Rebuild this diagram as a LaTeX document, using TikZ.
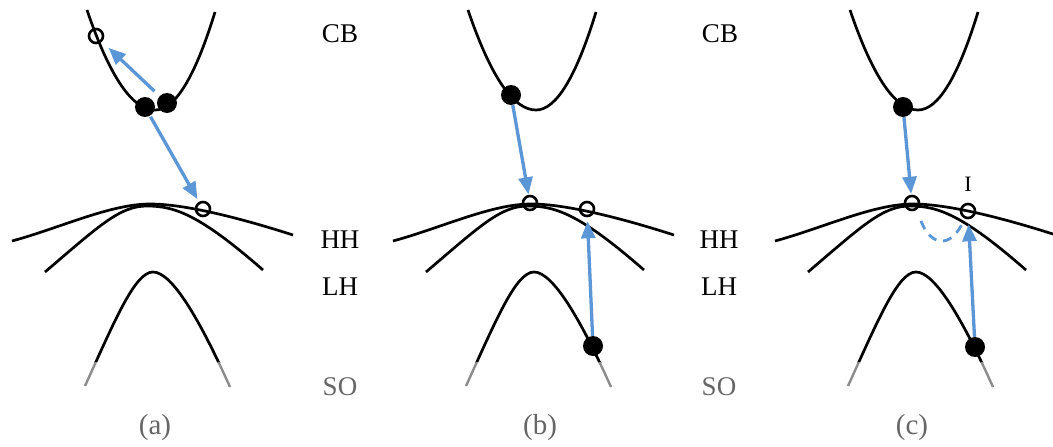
\documentclass[tikz,border=0pt]{standalone}
\usepackage{fontspec}
\setmainfont{Liberation Serif}
\usetikzlibrary{arrows.meta}
\definecolor{arrowblue}{RGB}{91,150,214}
\newcommand\drawbands{%
  \draw[band] (87,10) .. controls (109.7,76.7) and (132.3,110) .. (155,110)
              .. controls (175,110) and (195,77.3) .. (215,12);
  \draw[band] (12,241) .. controls (60,228) and (110,204) .. (150,204)
              .. controls (185,204) and (240,218) .. (293,235);
  \draw[band] (45,272) .. controls (100,225) and (120,206) .. (147,206)
              .. controls (175,206) and (200,215) .. (263,270);
  \begin{scope}
    \clip (0,0) rectangle (300,362);
    \draw[band] (85,386) .. controls (115,320) and (135,272) .. (153,272)
                .. controls (172,272) and (200,320) .. (230,387);
  \end{scope}
  \begin{scope}
    \clip (0,362) rectangle (300,447);
    \draw[sotip] (85,386) .. controls (115,320) and (135,272) .. (153,272)
                .. controls (172,272) and (200,320) .. (230,387);
  \end{scope}}
\begin{document}
\begin{tikzpicture}[x=1pt,y=-1pt,
  band/.style={line width=2.7pt},
  sotip/.style={line width=2.4pt,black!45},
  dotnode/.style={circle,fill=black,inner sep=0pt,minimum size=20pt},
  hole/.style={circle,draw=black,line width=2.6pt,inner sep=0pt,minimum size=14pt},
  bluearrow/.style={draw=arrowblue,line width=3.3pt,-{Triangle[length=17pt,width=14pt]}},
  bluedash/.style={draw=arrowblue,line width=2.8pt,dash pattern=on 9pt off 7pt},
  lbl/.style={font=\fontsize{27}{30}\selectfont},
  glbl/.style={font=\fontsize{27}{30}\selectfont,text=black!60},
  plbl/.style={font=\fontsize{29}{32}\selectfont,text=black!60}]
\useasboundingbox (0,0) rectangle (1053,447);
\fill[white] (0,0) rectangle (1053,447);

% bands
\drawbands
\begin{scope}[xshift=381pt]\drawbands\end{scope}
\begin{scope}[xshift=763pt]\drawbands\end{scope}

% panel (a)
\node[hole] (ah) at (96,36) {};
\node[dotnode] (a1) at (145,107) {};
\node[dotnode] (a2) at (167,103) {};
\node[hole] (ahh) at (203,209) {};
\draw[bluearrow,shorten <=7pt,shorten >=9pt] (a2) -- (ah);
\draw[bluearrow,shorten <=1pt,shorten >=3pt] (a1) -- (ahh);

% panel (b)
\node[dotnode] (bd) at (511,95) {};
\node[hole] (bh1) at (530,203) {};
\node[hole] (bh2) at (587,209) {};
\node[dotnode] (bs) at (593,346) {};
\draw[bluearrow,shorten >=0.5pt] (bd) -- (bh1);
\draw[bluearrow,shorten >=4pt] (bs) -- (bh2);

% panel (c)
\node[dotnode] (cd) at (903,107) {};
\node[hole] (ch1) at (912,203) {};
\node[hole] (ch2) at (968,211) {};
\node[dotnode] (cs) at (975,347) {};
\draw[bluearrow,shorten >=1pt] (cd) -- (ch1);
\draw[bluearrow,shorten >=5pt] (cs) -- (ch2);
\coordinate (dA) at (921,221);
\coordinate (dB) at (963,222);
\draw[bluedash] (dA) .. controls (930,245) and (950,250) .. (dB);
\node[font=\fontsize{22}{24}\selectfont] (il) at (968,184) {I};

% labels
\node[lbl] (cb1) at (340,34) {CB};
\node[lbl] (hh1) at (340,240) {HH};
\node[lbl] (lh1) at (340,287) {LH};
\node[glbl] (so1) at (340,387) {SO};
\node[lbl] (cb2) at (720,34) {CB};
\node[lbl] (hh2) at (719,240) {HH};
\node[lbl] (lh2) at (719,287) {LH};
\node[glbl] (so2) at (719,387) {SO};
\node[plbl] (pa) at (155,428) {(a)};
\node[plbl] (pb) at (540,428) {(b)};
\node[plbl] (pc) at (912,428) {(c)};
\end{tikzpicture}
\end{document}
